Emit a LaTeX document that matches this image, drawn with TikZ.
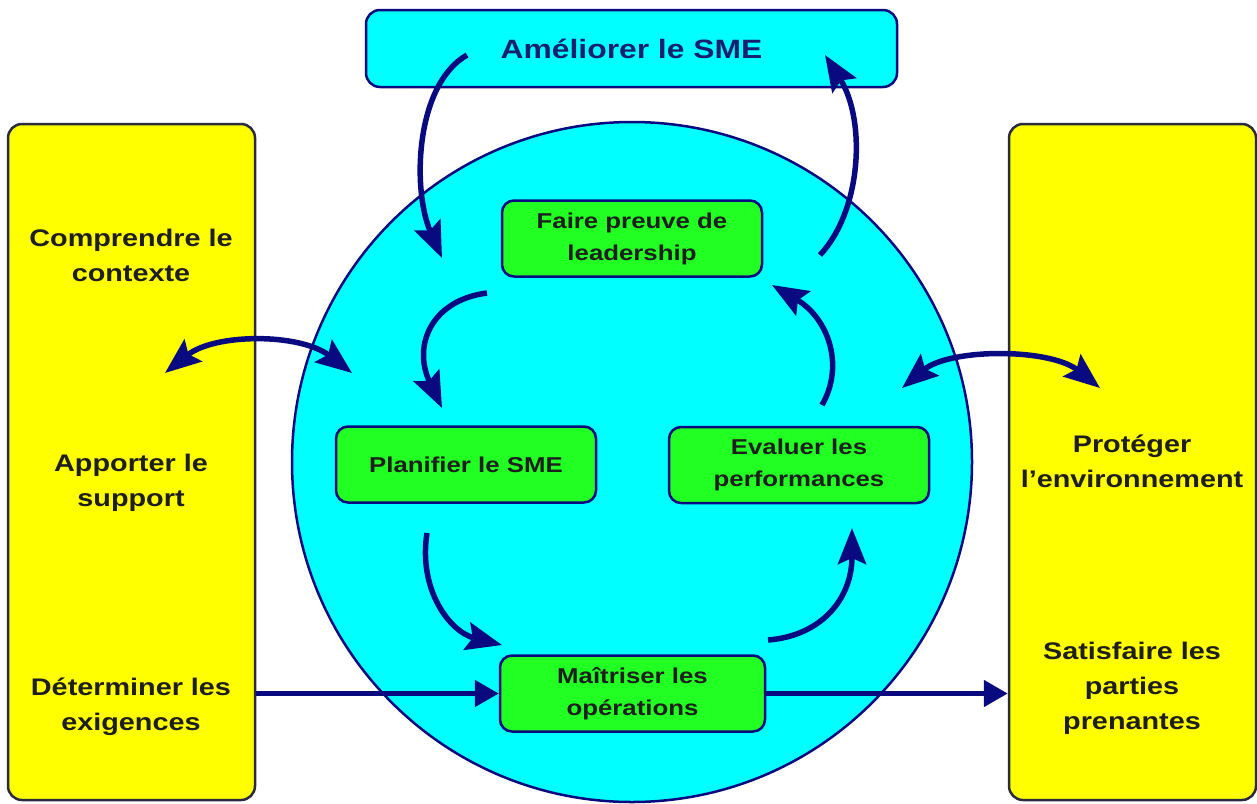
\documentclass[tikz,border=0pt]{standalone}
\usepackage{fontspec}
\setmainfont{Liberation Sans}[FakeStretch=1.2]
\usetikzlibrary{arrows.meta}
\definecolor{arrowblue}{HTML}{0A0A80}
\definecolor{edgedark}{HTML}{2A2A40}
\definecolor{ybox}{HTML}{FFFF00}
\definecolor{cyanfill}{HTML}{00FFFF}
\definecolor{greenfill}{HTML}{22FF22}
\definecolor{txtdark}{HTML}{1E1E1E}
\definecolor{topblue}{HTML}{16206E}
\begin{document}
\begin{tikzpicture}[x=1pt,y=-1pt,
  sidebox/.style={draw=edgedark, line width=2.5pt, fill=ybox, rounded corners=14pt, minimum width=247pt, minimum height=676pt, inner sep=0pt},
  stagebox/.style={draw=arrowblue, line width=2.5pt, fill=greenfill, rounded corners=12pt, inner sep=0pt, minimum width=260pt, minimum height=76pt, align=center, font=\fontsize{21.5}{32}\selectfont\bfseries, text=txtdark},
  sidetext/.style={align=center, font=\fontsize{24}{35}\selectfont\bfseries, text=txtdark},
  flow/.style={draw=arrowblue, line width=5.5pt, -{Stealth[length=36pt,width=28pt,inset=6pt]}},
  dflow/.style={draw=arrowblue, line width=5.5pt, {Stealth[length=36pt,width=28pt,inset=6pt]}-{Stealth[length=36pt,width=28pt,inset=6pt]}},
  straight/.style={draw=arrowblue, line width=5pt, -{Triangle[length=24pt,width=26pt]}}]
\useasboundingbox (0,0) rectangle (1257,803);
% side boxes
\node[sidebox] (leftbox) at (131.5,462) {};
\node[sidebox] (rightbox) at (1132.5,462) {};
% central circle
\node[circle, draw=arrowblue, line width=2.5pt, fill=cyanfill, minimum size=680pt, inner sep=0pt] (pdca) at (632,462) {};
% top box
\node[draw=arrowblue, line width=2.5pt, fill=cyanfill, rounded corners=14pt, minimum width=531pt, minimum height=77pt, inner sep=0pt, font=\fontsize{26.5}{32}\selectfont\bfseries, text=topblue] (improve) at (631.5,48.5) {Améliorer le SME};
% stage boxes
\node[stagebox] (lead) at (632,238.5) {Faire preuve de\\leadership};
\node[stagebox] (plan) at (466,464.5) {Planifier le SME};
\node[stagebox] (eval) at (799,465) {Evaluer les\\performances};
\node[stagebox, minimum width=265pt] (ops) at (632.5,693.5) {Maîtriser les\\opérations};
% side texts
\node[sidetext] (context) at (131,255.5) {Comprendre le\\contexte};
\node[sidetext] (support) at (131,482.5) {Apporter le\\support};
\node[sidetext] (requirements) at (131,706.5) {Déterminer les\\exigences};
\node[sidetext] (protect) at (1132,461.5) {Protéger\\l’environnement};
\node[sidetext] (satisfy) at (1132,688) {Satisfaire les\\parties\\prenantes};
% free ends of the curved connectors
\coordinate (impS) at (467,55);
\coordinate (leadN) at (442,258);
\coordinate (evalUp) at (820,255);
\coordinate (impE) at (825,55);
\coordinate (leadS) at (487,293);
\coordinate (planN) at (442,408);
\coordinate (planS) at (427,533);
\coordinate (opsW) at (502,645);
\coordinate (opsE) at (768,640);
\coordinate (evalS) at (852,528);
\coordinate (evalN) at (822,405);
\coordinate (leadE) at (772,285);
\coordinate (leftIn) at (165,373);
\coordinate (circL) at (352,373);
\coordinate (circR) at (902,388);
\coordinate (rightIn) at (1100,388);
% cycle arrows
\draw[flow] (impS) .. controls (415,85) and (412,190) .. (leadN);
\draw[flow] (evalUp) .. controls (862,210) and (866,120) .. (impE);
\draw[flow] (leadS) .. controls (432,300) and (412,345) .. (planN);
\draw[flow] (planS) .. controls (418,590) and (450,632) .. (opsW);
\draw[flow] (opsE) .. controls (820,636) and (852,600) .. (evalS);
\draw[flow] (evalN) .. controls (845,365) and (828,318) .. (leadE);
% double arrows
\draw[dflow] (leftIn) .. controls (215,333) and (300,333) .. (circL);
\draw[dflow] (circR) .. controls (950,348) and (1050,348) .. (rightIn);
% straight arrows
\draw[straight] (ops.west -| leftbox.east) -- (ops.west);
\draw[straight] (ops.east) -- (ops.east -| rightbox.west);
\end{tikzpicture}
\end{document}
